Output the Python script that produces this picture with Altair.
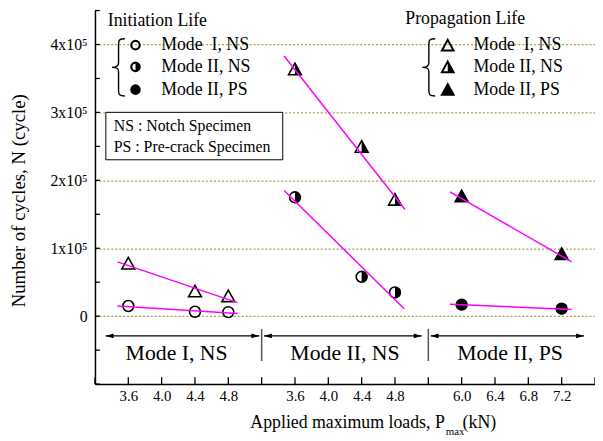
import json
import altair as alt
import pandas as pd

FONT = "Liberation Serif"

# ---------------- data ----------------
# broken x axis: three segments, each tick = 0.4 kN
x_tick_labels = ["", "3.6", "4.0", "4.4", "4.8", "", "3.6", "4.0", "4.4", "4.8",
                 "", "6.0", "6.4", "6.8", "7.2", ""]
segment_names = ["Mode I, NS", "Mode II, NS", "Mode II, PS"]
segment_base = [3.2, 3.2, 5.6]
segment_offset = [0, 5, 10]
load_step = 0.4

y_tick_values = [0, 100000, 200000, 300000, 400000]
y_tick_labels = ["0", "1x10⁵", "2x10⁵", "3x10⁵", "4x10⁵"]
y_minor_ticks = [-100000, -50000, 0, 50000, 100000, 150000, 200000,
                 250000, 300000, 350000, 400000, 450000]

legend_modes = ["Mode\u00a0 I, NS", "Mode II, NS", "Mode II, PS"]

# initiation life (circles)
init_mI_ns_load = [3.6, 4.4, 4.8]
init_mI_ns_N = [15000, 6500, 6000]
init_mII_ns_load = [3.6, 4.4, 4.8]
init_mII_ns_N = [175000, 58000, 35000]
init_mII_ps_load = [6.0, 7.2]
init_mII_ps_N = [17000, 11000]
# propagation life (triangles)
prop_mI_ns_load = [3.6, 4.4, 4.8]
prop_mI_ns_N = [78000, 37000, 30000]
prop_mII_ns_load = [3.6, 4.4, 4.8]
prop_mII_ns_N = [364000, 250000, 172000]
prop_mII_ps_load = [6.0, 7.2]
prop_mII_ps_N = [177000, 92000]

# fitted lines (end points)
fit_init_mI_ns = ([3.47, 4.91], [15000, 4000])
fit_init_mII_ns = ([3.47, 4.91], [185000, 11000])
fit_init_mII_ps = ([5.86, 7.32], [17500, 10000])
fit_prop_mI_ns = ([3.47, 4.91], [80000, 20000])
fit_prop_mII_ns = ([3.47, 4.92], [383000, 157000])
fit_prop_mII_ps = ([5.86, 7.32], [183000, 80000])

# segment annotation (in axis position units / cycles)
arrow_start = [0.32, 5.07, 10.07]
arrow_end = [4.93, 9.8, 14.67]
arrow_N = -29000
separator_pos = [5, 10]
separator_N = [-19000, -66000]
seg_label_pos = [2.45, 7.5, 12.45]
seg_label_N = -55000


def seg_pos(seg, load):
    return segment_offset[seg] + (load - segment_base[seg]) / load_step


W, H = 506, 378
x_scale = alt.Scale(domain=[0, 15], nice=False, zero=False)
y_scale = alt.Scale(domain=[-100000, 450000], nice=False, zero=False)

CIRCLE = "M1,0A1,1,0,1,1,-1,0A1,1,0,1,1,1,0Z"
HALF_CIRCLE = "M0,-1A1,1,0,0,1,0,1Z"
TRI = "M0,-0.9L1,0.9L-1,0.9Z"
HALF_TRI = "M0,-0.9L1,0.9L0,0.9Z"
HEAD_L = "M0,0L2,-0.6L2,0.6Z"
HEAD_R = "M0,0L-2,-0.6L-2,0.6Z"

dummy = pd.DataFrame({"_": [0]})

x_axis = alt.Axis(
    values=[i for i, t in enumerate(x_tick_labels) if t],
    labelExpr=json.dumps(x_tick_labels) + "[datum.value]",
    ticks=False, grid=False, domainColor="black", domainWidth=1.5,
    labelFont=FONT, labelFontSize=15, labelColor="black", labelPadding=5,
    labelOverlap=False, title=None,
)
y_axis = alt.Axis(
    values=y_tick_values,
    labelExpr=json.dumps(y_tick_labels, ensure_ascii=False) + "[round(datum.value / 100000)]",
    ticks=False, grid=True, gridColor="#a3a34f", gridDash=[2, 2], gridWidth=1.3,
    domainColor="black", domainWidth=1.5,
    labelFont=FONT, labelFontSize=16, labelColor="black", labelPadding=8,
    labelOverlap=False,
    title="Number of cycles, N (cycle)", titleFont=FONT, titleFontSize=19,
    titleFontWeight="normal", titleColor="black", titleX=-77, titleY=192,
    titleAngle=270, titleAlign="center", titleBaseline="middle",
)


def X(field="pos"):
    return alt.X(f"{field}:Q", scale=x_scale, axis=x_axis, title=None)


def Y(field="N"):
    return alt.Y(f"{field}:Q", scale=y_scale, axis=y_axis, title="Number of cycles, N (cycle)")


layers = []

# inward ticks ---------------------------------------------------------------
ytick_df = pd.DataFrame({"N": y_minor_ticks})
layers.append(
    alt.Chart(ytick_df).mark_rule(color="black", strokeWidth=1.3).encode(
        y=Y(), x=alt.value(0), x2=alt.value(5)
    )
)
xtick_df = pd.DataFrame({"pos": list(range(len(x_tick_labels)))})
layers.append(
    alt.Chart(xtick_df).mark_rule(color="black", strokeWidth=1.3).encode(
        x=X(), y=alt.value(H), y2=alt.value(H - 7)
    )
)

# data points ---------------------------------------------------------------
series = [
    (0, init_mI_ns_load, init_mI_ns_N, CIRCLE, None, "open", fit_init_mI_ns),
    (1, init_mII_ns_load, init_mII_ns_N, CIRCLE, HALF_CIRCLE, "half", fit_init_mII_ns),
    (2, init_mII_ps_load, init_mII_ps_N, CIRCLE, None, "filled", fit_init_mII_ps),
    (0, prop_mI_ns_load, prop_mI_ns_N, TRI, None, "open", fit_prop_mI_ns),
    (1, prop_mII_ns_load, prop_mII_ns_N, TRI, HALF_TRI, "half", fit_prop_mII_ns),
    (2, prop_mII_ps_load, prop_mII_ps_N, TRI, None, "filled", fit_prop_mII_ps),
]


def marker_layers(df, shape, half, style, size, sw):
    out = []
    if style == "filled":
        out.append(alt.Chart(df).mark_point(shape=shape, filled=True, fill="black",
                                            stroke="black", strokeWidth=sw, size=size,
                                            opacity=1).encode(x=X(), y=Y()))
    else:
        out.append(alt.Chart(df).mark_point(shape=shape, filled=False, stroke="black",
                                            strokeWidth=sw, size=size,
                                            opacity=1).encode(x=X(), y=Y()))
        if style == "half":
            out.append(alt.Chart(df).mark_point(shape=half, filled=True, fill="black",
                                                strokeWidth=0, size=size,
                                                opacity=1).encode(x=X(), y=Y()))
    return out


for seg, loads, Ns, shape, half, style, fit in series:
    size = 121 if shape == CIRCLE else 169
    df = pd.DataFrame({"pos": [seg_pos(seg, l) for l in loads], "N": Ns})
    layers += marker_layers(df, shape, half, style, size, 1.6)

for seg, loads, Ns, shape, half, style, fit in series:
    fdf = pd.DataFrame({"pos": [seg_pos(seg, l) for l in fit[0]], "N": fit[1]})
    layers.append(alt.Chart(fdf).mark_line(color="#ff00ff", strokeWidth=1.5).encode(x=X(), y=Y()))

# segment annotation ------------------------------------------------------
arr = pd.DataFrame({"pos": arrow_start, "pos2": arrow_end, "N": [arrow_N] * 3})
layers.append(alt.Chart(arr).mark_rule(color="black", strokeWidth=1.3).encode(
    x=X(), x2="pos2:Q", y=Y()))
layers.append(alt.Chart(arr).mark_point(shape=HEAD_L, filled=True, fill="black",
                                        strokeWidth=0, size=64, opacity=1).encode(x=X(), y=Y()))
layers.append(alt.Chart(arr).mark_point(shape=HEAD_R, filled=True, fill="black",
                                        strokeWidth=0, size=64, opacity=1).encode(x=X("pos2"), y=Y()))
sep = pd.DataFrame({"pos": separator_pos, "N": [separator_N[0]] * 2, "N2": [separator_N[1]] * 2})
layers.append(alt.Chart(sep).mark_rule(color="#555555", strokeWidth=1.5).encode(
    x=X(), y=Y(), y2="N2:Q"))
seglab = pd.DataFrame({"pos": seg_label_pos, "N": [seg_label_N] * 3, "t": segment_names})
layers.append(alt.Chart(seglab).mark_text(font=FONT, fontSize=22, color="black",
                                          align="center", baseline="middle").encode(
    x=X(), y=Y(), text="t:N"))


# legend (pixel positions inside plot area) ---------------------------------
def ptext(txt, x, y, size, align="left", baseline="middle"):
    return alt.Chart(dummy).mark_text(text=txt, font=FONT, fontSize=size, align=align,
                                      baseline=baseline, color="black").encode(
        x=alt.value(x), y=alt.value(y))


def psym(shape, x, y, size, filled, sw=0):
    if filled:
        m = alt.Chart(dummy).mark_point(shape=shape, filled=True, fill="black",
                                        stroke="black", strokeWidth=sw, size=size, opacity=1)
    else:
        m = alt.Chart(dummy).mark_point(shape=shape, filled=False, stroke="black",
                                        strokeWidth=sw, size=size, opacity=1)
    return m.encode(x=alt.value(x), y=alt.value(y))


BRACE = ("M0.25,-1C0.05,-1 0.03,-0.95 0.03,-0.8L0.03,-0.15C0.03,-0.03 -0.05,0 -0.2,0"
         "C-0.05,0 0.03,0.03 0.03,0.15L0.03,0.8C0.03,0.95 0.05,1 0.25,1")

rows_y = [35, 57, 80]
for (tx, ty, title, bx, mx, lx, base_shape, half_shape, msize) in [
    (13, 11, "Initiation Life", 23, 41, 67, CIRCLE, HALF_CIRCLE, 72),
    (314, 9, "Propagation Life", 337, 357, 383, TRI, HALF_TRI, 140),
]:
    layers.append(ptext(title, tx, ty, 18))
    layers.append(psym(BRACE, bx, 57.5, 3364, False, 1.4))
    styles = ["open", "half", "filled"]
    for i, st in enumerate(styles):
        sw = 2.2 if base_shape == CIRCLE else 2
        if st == "filled":
            layers.append(psym(base_shape, mx, rows_y[i], msize, True, sw))
        else:
            layers.append(psym(base_shape, mx, rows_y[i], msize, False, sw))
            if st == "half":
                layers.append(psym(half_shape, mx, rows_y[i], msize, True, 0))
        layers.append(ptext(legend_modes[i], lx, rows_y[i], 18))

# abbreviation box
layers.append(alt.Chart(dummy).mark_rect(fill="white", stroke="black", strokeWidth=1).encode(
    x=alt.value(11), x2=alt.value(190), y=alt.value(103), y2=alt.value(151)))
layers.append(ptext("NS : Notch Specimen", 19, 117, 16))
layers.append(ptext("PS : Pre-crack Specimen", 19, 138, 16))

# x axis title with subscript
layers.append(ptext("Applied maximum loads, P", 354, 422, 18, align="right", baseline="alphabetic"))
layers.append(ptext("max", 355, 430, 11, baseline="alphabetic"))
layers.append(ptext("(kN)", 372, 422, 18, baseline="alphabetic"))

chart = alt.layer(*layers).properties(
    width=W, height=H,
    autosize=alt.AutoSizeParams(type="none"),
    padding={"left": 88, "top": 0, "right": 0, "bottom": 55},
    background="white",
).configure_view(stroke=None)

chart.save("out.html", embed_options={"renderer": "svg", "actions": False})
